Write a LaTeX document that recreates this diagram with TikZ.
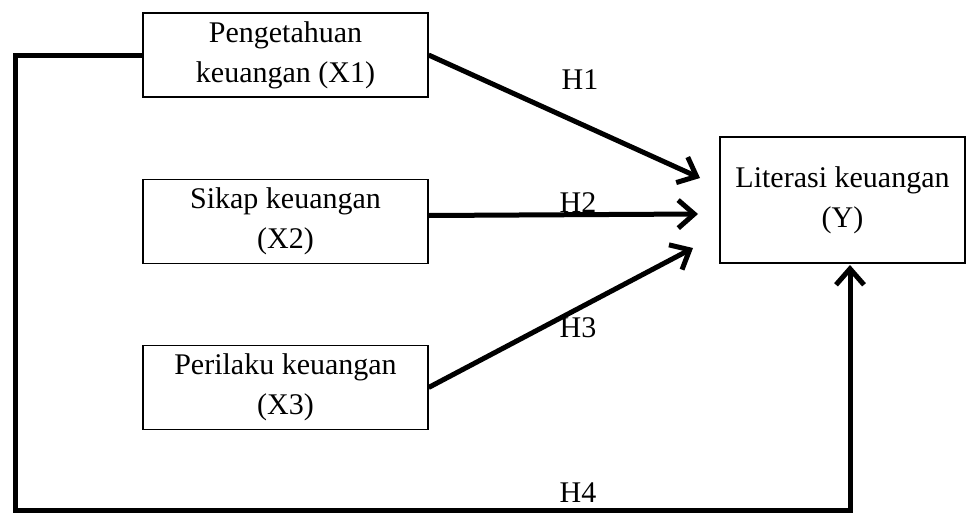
\documentclass[tikz,border=0pt]{standalone}
\usepackage{fontspec}
\setmainfont{Liberation Serif}
\usetikzlibrary{arrows.meta}

\begin{document}
\begin{tikzpicture}[x=0.5pt, y=-0.5pt,
  var/.style={draw, line width=0.6pt, align=center, inner sep=0pt,
    minimum width=142.5pt, minimum height=42pt,
    font=\fontsize{15}{20}\selectfont},
  link/.style={line width=2.5pt, -{Straight Barb[length=8pt,width=14pt,line width=2.5pt]}},
  hyp/.style={font=\fontsize{15}{18}\selectfont}]
  \useasboundingbox (0,0) rectangle (967,514);
  % variables
  \node [var] (x1) at (285.5,55) {Pengetahuan\\keuangan (X1)};
  \node [var] (x2) at (285.5,221.5) {Sikap keuangan\\(X2)};
  \node [var] (x3) at (285.5,387.5) {Perilaku keuangan\\(X3)};
  \node [var, minimum width=122.5pt, minimum height=63pt] (y) at (842.5,200) {Literasi keuangan\\(Y)};
  % arrow ends
  \coordinate (e1) at (700,178);
  \coordinate (e2) at (698,214);
  \coordinate (e3) at (693,248);
  \coordinate (c4) at (15,510);
  \coordinate (e4) at (850,265);
  % hypotheses
  \draw [link] (x1.east) -- (e1);
  \draw [link] ([yshift=3pt]x2.east) -- (e2);
  \draw [link] (x3.east) -- (e3);
  \draw [link] (x1.west) -| (c4) -| (e4);
  \node [hyp] (h1) at (580,80) {H1};
  \node [hyp] (h2) at (578,203) {H2};
  \node [hyp] (h3) at (578,328) {H3};
  \node [hyp] (h4) at (578,493) {H4};
\end{tikzpicture}
\end{document}
